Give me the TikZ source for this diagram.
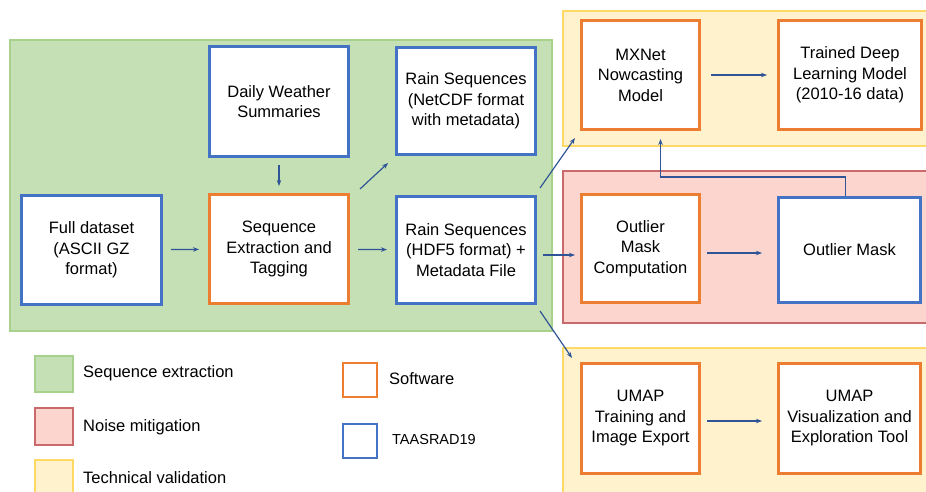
\documentclass[tikz,border=0pt]{standalone}
\usepackage{fontspec}
\setmainfont{Liberation Sans}
\usetikzlibrary{arrows.meta,calc}
\definecolor{bblue}{HTML}{4472C4}
\definecolor{borange}{HTML}{ED7D31}
\definecolor{gfill}{HTML}{C5E0B4}
\definecolor{gline}{HTML}{A9D18E}
\definecolor{rfill}{HTML}{FCD5CE}
\definecolor{rline}{HTML}{C8696C}
\definecolor{yfill}{HTML}{FFF2CC}
\definecolor{yline}{HTML}{FFD966}
\definecolor{arrc}{HTML}{2F5597}
\tikzset{
  box/.style={rectangle, fill=white, line width=3pt, align=center, inner sep=0pt,
    font=\fontsize{16.5}{20.5}\selectfont},
  bluebox/.style={box, draw=bblue},
  orbox/.style={box, draw=borange},
  greg/.style={fill=gfill, draw=gline, line width=2pt},
  rreg/.style={fill=rfill, draw=rline, line width=2pt},
  yreg/.style={fill=yfill, draw=yline, line width=2pt},
  arr/.style={draw=arrc, line width=1.2pt, -{Stealth[length=6pt,width=4.5pt]}},
  legtext/.style={anchor=west, inner sep=0pt, font=\fontsize{16.5}{20}\selectfont},
}
\begin{document}
\begin{tikzpicture}[x=1pt,y=-1pt]
\useasboundingbox (0,0) rectangle (926,492);
\begin{scope}
\clip (0,0) rectangle (926,492);
% regions
\draw[greg] (10,40) rectangle (552,331);
\draw[yreg] (563,11) rectangle (935,146);
\draw[rreg] (563,171) rectangle (935,323);
\draw[yreg] (563,348) rectangle (935,505);
% legend swatches
\draw[greg] (35,356) rectangle (73,392);
\draw[rreg] (35,408) rectangle (73,445);
\draw[yreg] (35,460) rectangle (73,500);
\end{scope}
\draw[fill=white, draw=borange, line width=2.5pt] (343,363) rectangle (377,397);
\draw[fill=white, draw=bblue, line width=2.5pt] (343,424) rectangle (377,458);
\node[legtext] (l1) at (83,373) {Sequence extraction};
\node[legtext] (l2) at (83,427) {Noise mitigation};
\node[legtext] (l3) at (83,478) {Technical validation};
\node[legtext] (l4) at (389,379) {Software};
\node[legtext, font=\fontsize{14.5}{18}\selectfont] (l5) at (392,440) {TAASRAD19};
% boxes
\node[bluebox, minimum width=140, minimum height=109] (full) at (91.5,250) {Full dataset\\(ASCII GZ\\format)};
\node[bluebox, minimum width=139, minimum height=110] (daily) at (279,101.5) {Daily Weather\\Summaries};
\node[orbox, minimum width=139, minimum height=109] (seq) at (279,249) {Sequence\\Extraction and\\Tagging};
\node[bluebox, minimum width=139, minimum height=107] (net) at (466,101) {Rain Sequences\\(NetCDF format\\with metadata)};
\node[bluebox, minimum width=139, minimum height=107] (hdf) at (466,250) {Rain Sequences\\(HDF5 format) +\\Metadata File};
\node[orbox, minimum width=118, minimum height=109] (mx) at (640.5,75) {MXNet\\Nowcasting\\Model};
\node[orbox, minimum width=143, minimum height=109] (tr) at (850,75) {Trained Deep\\Learning Model\\(2010-16 data)};
\node[orbox, minimum width=118, minimum height=108] (omc) at (640.5,248.5) {Outlier\\Mask\\Computation};
\node[bluebox, minimum width=142, minimum height=105] (om) at (849.5,250) {Outlier Mask};
\node[orbox, minimum width=118, minimum height=110] (um) at (640.5,418.5) {UMAP\\Training and\\Image Export};
\node[orbox, minimum width=142, minimum height=110] (vis) at (849.5,418.5) {UMAP\\Visualization and\\Exploration Tool};
% connectors
\draw[arr, shorten <=8pt, shorten >=9pt] (full) -- (seq);
\draw[arr, shorten <=7pt, shorten >=7pt] (daily) -- (seq);
\draw[arr, shorten <=8pt, shorten >=8pt] (seq) -- (hdf);
\draw[arr] ($(seq.north east)+(10,-4)$) -- ($(net.south west)+(-7,7)$);
\draw[arr] ($(hdf.north east)+(3,-7)$) -- ($(mx.south west)+(-5,7)$);
\draw[arr] ($(hdf.south east)+(3,6)$) -- ($(um.north west)+(-8,-4)$);
\coordinate (a1) at ($(hdf.east)+(6,5)$);
\draw[arr, shorten >=5pt] (a1) -- (a1 -| omc.west);
\draw[arr, shorten <=10pt, shorten >=10pt] (mx) -- (tr);
\coordinate (a2) at ($(omc.east)+(6,4.5)$);
\draw[arr, shorten >=15pt] (a2) -- (a2 -| om.west);
\coordinate (a3) at ($(um.east)+(6,2.5)$);
\draw[arr, shorten >=15pt] (a3) -- (a3 -| vis.west);
\coordinate (omt) at ($(om.north)+(-4,0)$);
\coordinate (fb) at ($(om.north)+(-4,-19)$);
\coordinate (mxs) at ($(mx.south)+(20,0)$);
\draw[arr, line width=1.5pt, shorten >=8pt] (omt) -- (fb) -| (mxs);
\end{tikzpicture}
\end{document}
